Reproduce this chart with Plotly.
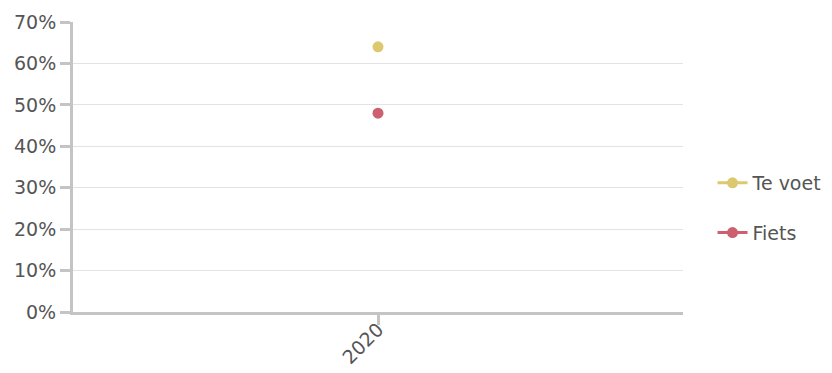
import plotly.graph_objects as go

years = ["2020"]
te_voet = [64.0]
fiets = [48.0]
y_ticks = [0, 10, 20, 30, 40, 50, 60, 70]
y_tick_labels = ["0%", "10%", "20%", "30%", "40%", "50%", "60%", "70%"]

fig = go.Figure()
fig.add_trace(go.Scatter(x=years, y=te_voet, name="Te voet", mode="lines+markers",
                         marker=dict(color="#dcc86e", size=11), line=dict(color="#dcc86e", width=3),
                         legendgroup="a"))
fig.add_trace(go.Scatter(x=years, y=fiets, name="Fiets", mode="lines+markers",
                         marker=dict(color="#cd6070", size=11), line=dict(color="#cd6070", width=3),
                         legendgroup="b"))

# page body has an 8px default margin, so the figure is offset by 8px
fig.update_layout(
    width=824, height=365,
    margin=dict(l=65, r=149, t=14, b=61),
    paper_bgcolor="white", plot_bgcolor="white",
    font=dict(family="DejaVu Sans", size=19, color="#555555"),
    showlegend=True,
    legend=dict(xref="container", yref="container", x=0.855, y=0.452,
                yanchor="middle", xanchor="left", tracegroupgap=22,
                font=dict(size=19, color="#555555")),
    xaxis=dict(type="category", showline=True, linecolor="#c4c4c4", linewidth=3,
               ticks="outside", ticklen=10, tickwidth=3, tickcolor="#c4c4c4",
               tickangle=-45, showgrid=False, zeroline=False, automargin=False,
               ticklabelstandoff=-14),
    yaxis=dict(range=[0, 70], tickmode="array", tickvals=y_ticks, ticktext=y_tick_labels,
               showline=True, automargin=False,
               linecolor="#c4c4c4", linewidth=3, ticks="outside", ticklen=10, tickwidth=3,
               tickcolor="#c4c4c4", gridcolor="#e3e3e3", gridwidth=1, zeroline=False),
)
fig.write_html("out.html")
